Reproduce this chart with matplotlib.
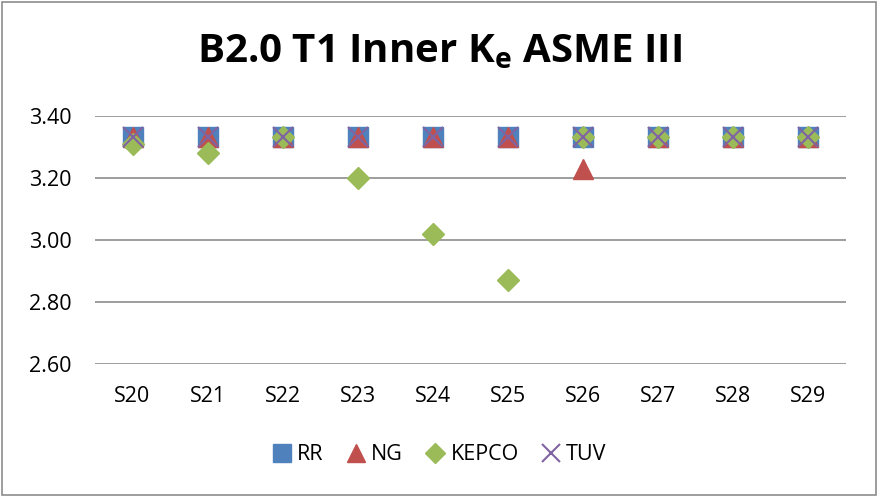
import matplotlib
matplotlib.use("Agg")
import matplotlib.pyplot as plt
from matplotlib.patches import Rectangle

categories = ["S20", "S21", "S22", "S23", "S24", "S25", "S26", "S27", "S28", "S29"]
rr = [3.333, 3.333, 3.333, 3.333, 3.333, 3.333, 3.333, 3.333, 3.333, 3.333]
ng = [3.333, 3.333, 3.333, 3.333, 3.333, 3.333, 3.23, 3.333, 3.333, 3.333]
kepco = [3.31, 3.28, 3.333, 3.20, 3.02, 2.87, 3.333, 3.333, 3.333, 3.333]
tuv = [3.333, 3.333, 3.333, 3.333, 3.333, 3.333, 3.333, 3.333, 3.333, 3.333]
y_ticks = [2.60, 2.80, 3.00, 3.20, 3.40]

plt.rcParams['font.family'] = ['Open Sans', 'DejaVu Sans']

fig = plt.figure(figsize=(8.78, 4.97), dpi=100)
ax = fig.add_axes([95 / 878, 1 - 364 / 497, 751 / 878, 248 / 497])

x = list(range(len(categories)))
ax.plot(x, rr, ls="none", marker="s", ms=14, color="#4F81BD", label="RR", zorder=3)
ax.plot(x, ng, ls="none", marker="^", ms=15, color="#C0504D", label="NG", zorder=4)
ax.plot(x, kepco, ls="none", marker="D", ms=11, color="#9BBB59", label="KEPCO", zorder=5)
ax.plot(x, tuv, ls="none", marker="x", ms=14, mew=1.5, color="#8064A2", label="TUV", zorder=6)

ax.set_xlim(-0.5, len(categories) - 0.5)
ax.set_ylim(2.6, 3.4)
ax.set_yticks(y_ticks)
ax.set_yticklabels([f"{v:.2f}" for v in y_ticks])
ax.set_xticks(x)
ax.set_xticklabels(categories)
ax.tick_params(axis="both", length=0, labelsize=15.5, colors="black")
ax.tick_params(axis="x", pad=16)
ax.tick_params(axis="y", pad=17)
ax.grid(axis="y", color="#8C8C8C", lw=1.2, zorder=0)
for s in ax.spines.values():
    s.set_visible(False)

fig.text(0.5, 1 - 52 / 497, r"B2.0 T1 Inner K$_\mathregular{e}$ ASME III", ha="center", va="center",
         fontsize=29, fontweight="bold")

leg = fig.legend(loc="center", bbox_to_anchor=(0.5, 1 - 455 / 497), ncol=4, frameon=False,
                 fontsize=15.5, handlelength=1.0, handletextpad=0.2, columnspacing=1.0,
                 markerscale=0.9)

fig.patches.append(Rectangle((2 / 878, 2 / 497), 874 / 878, 493 / 497, transform=fig.transFigure,
                             fill=False, edgecolor="#8C8C8C", lw=1.2))

fig.savefig("out.png", dpi=100)
